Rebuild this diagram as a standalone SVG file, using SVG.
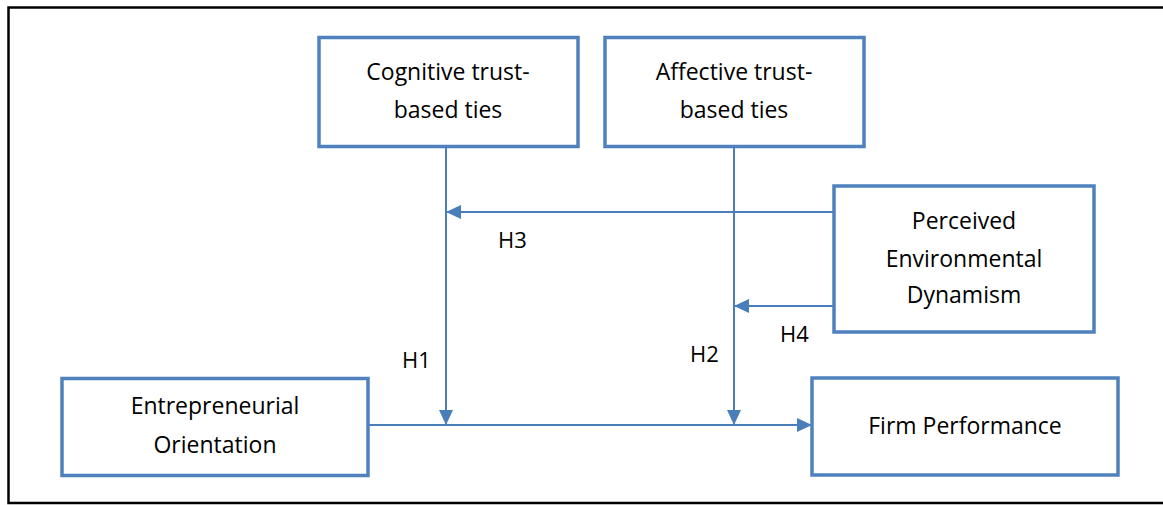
<svg xmlns="http://www.w3.org/2000/svg" width="1163" height="505" viewBox="0 0 1163 505">
  <style>
    .box { fill: #ffffff; stroke: #4F81BD; stroke-width: 3.5; }
    .txt { font-family: "Open Sans", "Liberation Sans", sans-serif; font-size: 23px; fill: #000000; text-anchor: middle; }
    .lbl { font-family: "Open Sans", "Liberation Sans", sans-serif; font-size: 22px; fill: #000000; }
    .conn { stroke: #4A7EBB; stroke-width: 2; fill: none; }
    .frame { stroke: #000000; stroke-width: 2.5; fill: none; }
  </style>
  <defs>
    <marker id="arrow" markerUnits="userSpaceOnUse" markerWidth="16" markerHeight="16" viewBox="0 0 16 16" refX="15" refY="8" orient="auto">
      <path d="M0,1 L15,8 L0,15 Z" fill="#4A7EBB"/>
    </marker>
  </defs>
  <rect width="1163" height="505" fill="#ffffff"/>
  <path class="frame" d="M1163,7.5 L8.5,7.5 L8.5,503 L1163,503"/>

  <g id="connectors">
    <line class="conn" x1="446" y1="146" x2="446" y2="425" marker-end="url(#arrow)"/>
    <line class="conn" x1="734" y1="146" x2="734" y2="425" marker-end="url(#arrow)"/>
    <line class="conn" x1="834" y1="212" x2="446" y2="212" marker-end="url(#arrow)"/>
    <line class="conn" x1="834" y1="306" x2="734" y2="306" marker-end="url(#arrow)"/>
    <line class="conn" x1="368" y1="425" x2="812" y2="425" marker-end="url(#arrow)"/>
    <text class="lbl" x="402" y="368">H1</text>
    <text class="lbl" x="690" y="362">H2</text>
    <text class="lbl" x="498" y="248">H3</text>
    <text class="lbl" x="780" y="342">H4</text>
  </g>

  <g id="cognitive">
    <rect class="box" x="319" y="37.5" width="259" height="109"/>
    <text class="txt" x="448" y="80">Cognitive trust-</text>
    <text class="txt" x="448" y="118">based ties</text>
  </g>
  <g id="affective">
    <rect class="box" x="605" y="37.5" width="259" height="109"/>
    <text class="txt" x="734" y="80">Affective trust-</text>
    <text class="txt" x="734" y="118">based ties</text>
  </g>
  <g id="perceived">
    <rect class="box" x="834" y="186" width="260" height="146"/>
    <text class="txt" x="964" y="229">Perceived</text>
    <text class="txt" x="964" y="267">Environmental</text>
    <text class="txt" x="964" y="303">Dynamism</text>
  </g>
  <g id="entrepreneurial">
    <rect class="box" x="62" y="378.5" width="306" height="97"/>
    <text class="txt" x="215" y="414">Entrepreneurial</text>
    <text class="txt" x="215" y="453">Orientation</text>
  </g>
  <g id="firm">
    <rect class="box" x="812" y="378" width="306" height="97"/>
    <text class="txt" x="965" y="434">Firm Performance</text>
  </g>
</svg>
